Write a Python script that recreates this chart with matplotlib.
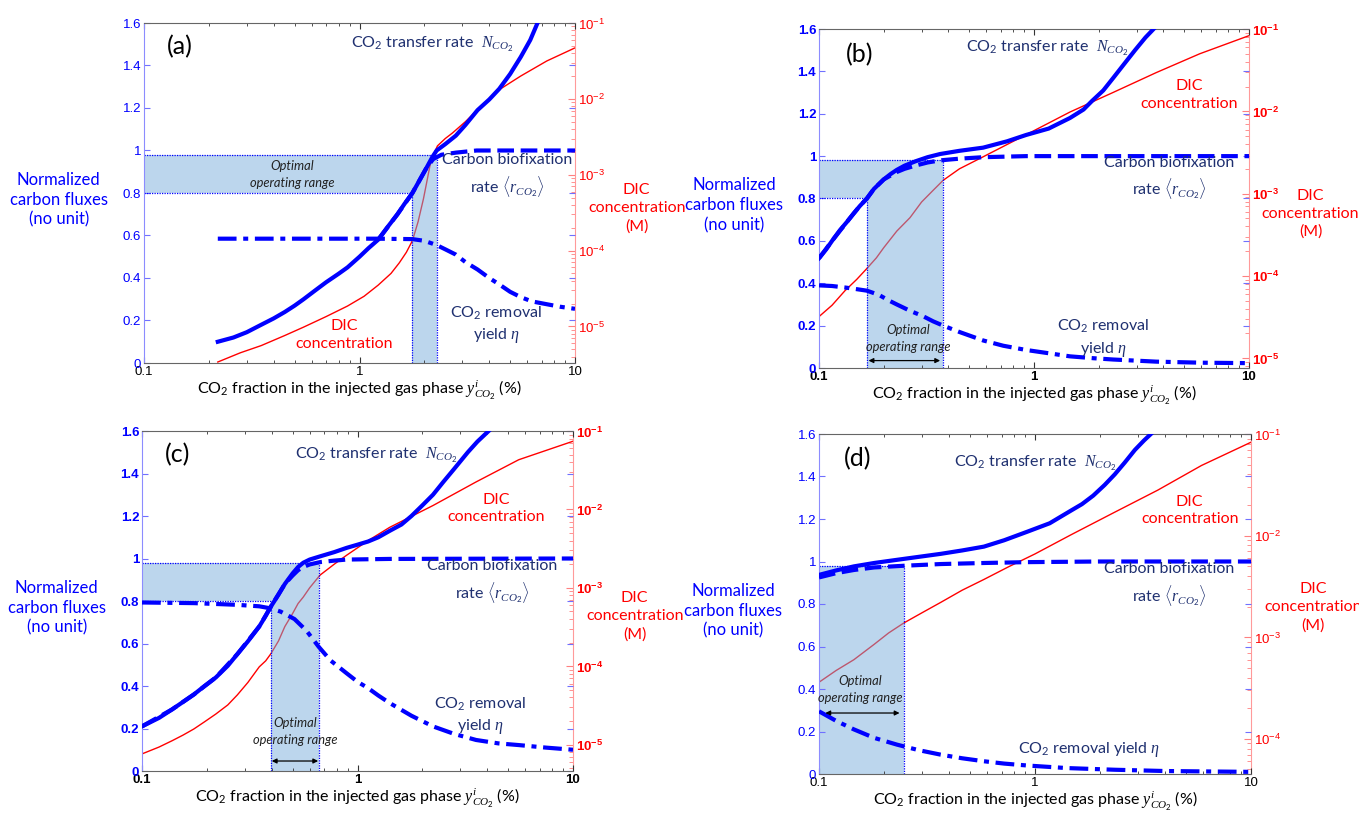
import numpy as np
import matplotlib
matplotlib.use("Agg")
import matplotlib.pyplot as plt
from matplotlib.ticker import FixedLocator, LogLocator, NullFormatter, FuncFormatter

plt.rcParams["font.family"] = ["Lato", "DejaVu Sans"]
plt.rcParams["mathtext.fontset"] = "custom"
plt.rcParams["mathtext.rm"] = "Lato"
plt.rcParams["mathtext.it"] = "Liberation Serif:italic"
plt.rcParams["mathtext.bf"] = "Liberation Sans:bold"
plt.rcParams["mathtext.sf"] = "Liberation Sans"

# ---------------- data ----------------
# panel (a)
a_x_N   = [0.22, 0.26, 0.30, 0.35, 0.40, 0.45, 0.50, 0.55, 0.62, 0.70, 0.80, 0.88, 1.0, 1.1, 1.22,
           1.35, 1.5, 1.62, 1.76, 1.9, 2.05, 2.18, 2.28, 2.5, 2.8, 3.1, 3.53, 4.0, 4.45, 5.0, 5.6, 6.2, 6.7]
a_N     = [0.10, 0.12, 0.145, 0.18, 0.21, 0.24, 0.27, 0.30, 0.34, 0.38, 0.42, 0.45, 0.50, 0.54, 0.58,
           0.64, 0.70, 0.75, 0.80, 0.86, 0.92, 0.97, 1.00, 1.03, 1.07, 1.12, 1.19, 1.24, 1.29, 1.36, 1.44, 1.52, 1.60]
a_x_r   = [1.22, 1.50, 1.76, 2.05, 2.20, 2.40, 2.8, 3.5, 10]
a_r     = [0.58, 0.70, 0.80, 0.92, 0.96, 0.98, 0.99, 1.0, 1.0]
a_x_eta = [0.22, 0.6, 1.2, 1.76, 2.0, 2.28, 2.5, 2.8, 3.1, 3.53, 4.0, 4.45, 5.0, 5.6, 6.3, 7.1, 8.5, 10]
a_eta   = [0.585, 0.585, 0.585, 0.583, 0.575, 0.555, 0.535, 0.51, 0.475, 0.44, 0.40, 0.37, 0.335,
           0.31, 0.29, 0.28, 0.265, 0.255]
a_x_dic = [0.22, 0.28, 0.35, 0.45, 0.55, 0.7, 0.88, 1.05, 1.22, 1.4, 1.53, 1.65, 1.76, 1.87, 1.98,
           2.05, 2.12, 2.2, 2.3, 2.5, 2.7, 3.1, 3.53, 4.45, 5.6, 7.4, 10]
a_dic   = [3.4e-6, 4.5e-6, 5.6e-6, 7.6e-6, 9.8e-6, 1.35e-5, 1.86e-5, 2.5e-5, 3.5e-5, 5.0e-5, 6.9e-5,
           9.5e-5, 1.35e-4, 2.4e-4, 4.8e-4, 7.9e-4, 1.29e-3, 1.82e-3, 2.4e-3, 3.0e-3, 3.55e-3,
           5.0e-3, 7.2e-3, 1.32e-2, 2.0e-2, 3.16e-2, 4.7e-2]
a_opt   = [1.76, 2.28]

# panel (b)
b_x_N   = [0.1, 0.108, 0.115, 0.125, 0.135, 0.145, 0.155, 0.167, 0.18, 0.2, 0.215, 0.23, 0.25, 0.28,
           0.32, 0.366, 0.45, 0.58, 0.75, 0.92, 1.17, 1.47, 1.7, 1.86, 2.1, 2.34, 2.65, 2.95, 3.3, 3.6]
b_N     = [0.518, 0.56, 0.60, 0.65, 0.69, 0.73, 0.765, 0.80, 0.845, 0.89, 0.915, 0.935, 0.955, 0.975,
           0.995, 1.01, 1.025, 1.04, 1.07, 1.10, 1.13, 1.18, 1.22, 1.26, 1.31, 1.37, 1.44, 1.50, 1.56, 1.60]
b_x_r   = [0.1, 0.115, 0.135, 0.155, 0.167, 0.18, 0.2, 0.23, 0.25, 0.28, 0.32, 0.366, 0.45, 0.58, 0.92, 10]
b_r     = [0.518, 0.60, 0.69, 0.765, 0.80, 0.845, 0.89, 0.925, 0.94, 0.955, 0.97, 0.98, 0.988, 0.995, 1.0, 1.0]
b_x_eta = [0.1, 0.115, 0.132, 0.15, 0.167, 0.19, 0.21, 0.23, 0.265, 0.304, 0.34, 0.378, 0.45, 0.58,
           0.72, 0.92, 1.2, 1.47, 1.9, 2.34, 3.7, 6.0, 10]
b_eta   = [0.39, 0.387, 0.38, 0.372, 0.365, 0.345, 0.32, 0.30, 0.27, 0.245, 0.22, 0.20, 0.17, 0.13,
           0.105, 0.085, 0.068, 0.055, 0.046, 0.04, 0.03, 0.025, 0.023]
b_x_dic = [0.1, 0.115, 0.132, 0.15, 0.167, 0.185, 0.2, 0.23, 0.265, 0.3, 0.34, 0.378, 0.45, 0.58,
           0.92, 1.47, 2.34, 3.7, 5.9, 10]
b_dic   = [3.2e-5, 4.4e-5, 6.6e-5, 9.1e-5, 1.23e-4, 1.66e-4, 2.2e-4, 3.5e-4, 5.1e-4, 7.9e-4, 1.1e-3,
           1.45e-3, 2.0e-3, 2.8e-3, 5.2e-3, 9.8e-3, 1.7e-2, 2.95e-2, 5.0e-2, 8.3e-2]
b_opt   = [0.167, 0.378]

# panel (c)
c_x_N   = [0.1, 0.12, 0.138, 0.155, 0.174, 0.195, 0.22, 0.25, 0.277, 0.31, 0.35, 0.375, 0.397, 0.43,
           0.46, 0.5, 0.53, 0.56, 0.6, 0.67, 0.78, 0.89, 1.0, 1.12, 1.25, 1.41, 1.6, 1.78, 2.0, 2.24,
           2.5, 2.8, 3.25, 3.6, 4.06]
c_N     = [0.21, 0.25, 0.29, 0.325, 0.36, 0.40, 0.44, 0.495, 0.55, 0.61, 0.68, 0.73, 0.775, 0.83,
           0.88, 0.93, 0.96, 0.98, 0.995, 1.01, 1.03, 1.05, 1.065, 1.08, 1.10, 1.13, 1.16, 1.20, 1.25,
           1.30, 1.36, 1.42, 1.50, 1.55, 1.60]
c_x_r   = [0.1, 0.138, 0.174, 0.22, 0.277, 0.35, 0.397, 0.46, 0.5, 0.53, 0.56, 0.6, 0.67, 0.78, 0.89, 1.41, 10]
c_r     = [0.21, 0.29, 0.36, 0.44, 0.55, 0.68, 0.775, 0.88, 0.92, 0.945, 0.96, 0.972, 0.983, 0.99,
           0.995, 0.998, 1.0]
c_x_eta = [0.1, 0.174, 0.277, 0.35, 0.397, 0.44, 0.51, 0.58, 0.66, 0.75, 0.89, 1.0, 1.12, 1.25,
           1.41, 1.78, 2.24, 2.8, 3.55, 4.5, 5.6, 7.5, 10]
c_eta   = [0.793, 0.79, 0.782, 0.775, 0.765, 0.75, 0.715, 0.66, 0.585, 0.52, 0.46, 0.42, 0.39, 0.355,
           0.32, 0.26, 0.21, 0.175, 0.146, 0.13, 0.122, 0.11, 0.10]
c_x_dic = [0.1, 0.12, 0.138, 0.155, 0.174, 0.195, 0.22, 0.25, 0.277, 0.31, 0.35, 0.375, 0.397, 0.43,
           0.46, 0.5, 0.53, 0.56, 0.6, 0.67, 0.78, 0.89, 1.12, 1.41, 2.24, 3.55, 5.6, 10]
c_dic   = [7.6e-6, 9.3e-6, 1.12e-5, 1.32e-5, 1.58e-5, 1.95e-5, 2.45e-5, 3.2e-5, 4.3e-5, 6.2e-5,
           9.8e-5, 1.17e-4, 1.45e-4, 2.1e-4, 3.2e-4, 4.7e-4, 6.3e-4, 7.6e-4, 1.0e-3, 1.45e-3,
           2.0e-3, 2.6e-3, 4.0e-3, 5.9e-3, 1.12e-2, 2.24e-2, 4.3e-2, 7.4e-2]
c_opt   = [0.397, 0.66]

# panel (d)
d_x_N   = [0.1, 0.12, 0.145, 0.18, 0.23, 0.29, 0.366, 0.46, 0.58, 0.72, 0.92, 1.17, 1.47, 1.65,
           1.86, 2.1, 2.34, 2.6, 2.9, 3.2, 3.44]
d_N     = [0.937, 0.958, 0.977, 0.993, 1.008, 1.022, 1.036, 1.052, 1.07, 1.10, 1.14, 1.18, 1.24, 1.27,
           1.31, 1.36, 1.41, 1.465, 1.525, 1.57, 1.60]
d_x_r   = [0.1, 0.12, 0.145, 0.18, 0.247, 0.366, 0.58, 0.92, 2.0, 10]
d_r     = [0.925, 0.945, 0.96, 0.972, 0.98, 0.988, 0.993, 0.997, 1.0, 1.0]
d_x_eta = [0.1, 0.12, 0.145, 0.18, 0.23, 0.29, 0.366, 0.46, 0.58, 0.72, 0.92, 1.4, 2.34, 4.0, 10]
d_eta   = [0.295, 0.25, 0.21, 0.17, 0.138, 0.112, 0.091, 0.074, 0.06, 0.049, 0.04, 0.028, 0.02, 0.014, 0.01]
d_x_dic = [0.1, 0.12, 0.145, 0.18, 0.21, 0.247, 0.3, 0.366, 0.46, 0.58, 0.75, 1.0, 1.47, 2.34, 3.7, 5.9, 10]
d_dic   = [3.6e-4, 4.7e-4, 6.0e-4, 8.5e-4, 1.1e-3, 1.38e-3, 1.74e-3, 2.2e-3, 2.9e-3, 3.7e-3,
           4.9e-3, 6.6e-3, 1.02e-2, 1.7e-2, 2.8e-2, 4.9e-2, 8.3e-2]
d_opt   = [0.1, 0.247]

band_lo, band_hi = 0.8, 0.98
dic_bottom = {"a": 3.3e-6, "b": 7.6e-6, "c": 4.6e-6, "d": 4.5e-5}

panels = {
    "a": dict(xN=a_x_N, N=a_N, xr=a_x_r, r=a_r, xe=a_x_eta, e=a_eta, xd=a_x_dic, d=a_dic, opt=a_opt),
    "b": dict(xN=b_x_N, N=b_N, xr=b_x_r, r=b_r, xe=b_x_eta, e=b_eta, xd=b_x_dic, d=b_dic, opt=b_opt),
    "c": dict(xN=c_x_N, N=c_N, xr=c_x_r, r=c_r, xe=c_x_eta, e=c_eta, xd=c_x_dic, d=c_dic, opt=c_opt),
    "d": dict(xN=d_x_N, N=d_N, xr=d_x_r, r=d_r, xe=d_x_eta, e=d_eta, xd=d_x_dic, d=d_dic, opt=d_opt),
}

# ---------------- layout / styles ----------------
W, H = 1359, 813
boxes = {"a": (144, 23, 575, 363), "b": (819, 29, 1249, 368),
         "c": (142, 431, 573, 771), "d": (819, 434, 1251, 774)}
bold = {"a": False, "b": True, "c": True, "d": False}
dic_label_y = {"a": 0.455, "b": 0.455, "c": 0.455, "d": 0.49}
# annotation positions (data coords)
ann = {
    "a": dict(lab=(0.128, 1.49), N=(0.91, 1.50), dic=(0.85, 0.133),
              rr=(4.83, 0.88), eta=(4.3, 0.18), eta_one=False, opt=(0.487, 0.886), arrow=None),
    "b": dict(lab=(0.134, 1.48), N=(0.484, 1.506), dic=(5.27, 1.29),
              rr=(4.24, 0.894), eta=(2.09, 0.14), eta_one=False, opt=(0.259, 0.14), arrow=(0.17, 0.366, 0.035)),
    "c": dict(lab=(0.128, 1.49), N=(0.515, 1.486), dic=(4.4, 1.235),
              rr=(4.2, 0.89), eta=(3.7, 0.26), eta_one=False, opt=(0.513, 0.185), arrow=(0.40, 0.657, 0.047)),
    "d": dict(lab=(0.131, 1.486), N=(0.42, 1.46), dic=(5.2, 1.24),
              rr=(4.2, 0.89), eta=(1.77, 0.114), eta_one=True, opt=(0.155, 0.40), arrow=(0.107, 0.236, 0.287)),
}

BLUE = "#0000ff"
RED = "#ff0000"
NAVY = "#1f3070"
FILL = "#7bafdd"
FS = 11.5

fig = plt.figure(figsize=(W / 100, H / 100), dpi=100)

for key, p in panels.items():
    x0, y0, x1, y1 = boxes[key]
    ax = fig.add_axes([x0 / W, 1 - y1 / H, (x1 - x0) / W, (y1 - y0) / H])
    ax2 = ax.twinx()
    ax.set_zorder(ax2.get_zorder() + 1)
    ax.patch.set_visible(False)
    fw = "bold" if bold[key] else "normal"

    # DIC on the log axis
    ax2.plot(p["xd"], p["d"], color=RED, lw=1.0)
    ax2.set_yscale("log")
    ax2.set_ylim(dic_bottom[key], 0.1)
    dec = [10.0 ** k for k in range(-5, 0) if 10.0 ** k >= dic_bottom[key] * 0.999]
    ax2.yaxis.set_major_locator(FixedLocator(dec))
    ax2.yaxis.set_minor_locator(LogLocator(base=10, subs=np.arange(2, 10)))
    ax2.yaxis.set_minor_formatter(NullFormatter())
    mt = r"\mathbf" if bold[key] else r"\mathsf"
    ax2.yaxis.set_major_formatter(FuncFormatter(
        lambda v, pos, mt=mt: "$%s{10^{%d}}$" % (mt, int(round(np.log10(v))))))
    ax2.tick_params(axis="y", which="both", direction="in", colors=RED, labelsize=9.5, pad=2)
    ax2.tick_params(axis="y", which="major", length=5, color="#ff8080")
    ax2.tick_params(axis="y", which="minor", length=3, color="#ff8080")
    for s in ["left", "top", "bottom"]:
        ax2.spines[s].set_visible(False)
    ax2.spines["right"].set_color("#ff9a9a")

    # shaded optimal range
    lo, hi = p["opt"]
    poly_x = [0.1, lo, lo, hi, hi, 0.1]
    poly_y = [band_lo, band_lo, 0, 0, band_hi, band_hi]
    ax.fill(poly_x, poly_y, color=FILL, alpha=0.5, lw=0, zorder=1)
    dot = dict(color=BLUE, lw=0.9, ls=(0, (1, 1)), zorder=2)
    ax.plot([0.1, hi], [band_hi, band_hi], **dot)
    ax.plot([hi, hi], [0, band_hi], **dot)
    if lo > 0.1:
        ax.plot([0.1, lo], [band_lo, band_lo], **dot)
        ax.plot([lo, lo], [0, band_lo], **dot)

    # carbon fluxes
    ax.plot(p["xe"], p["e"], color=BLUE, lw=3, ls=(0, (4.5, 1.6, 1.2, 1.6)), zorder=3)
    ax.plot(p["xr"], p["r"], color=BLUE, lw=3, ls=(0, (4, 1.6)), zorder=3)
    ax.plot(p["xN"], p["N"], color=BLUE, lw=3, zorder=4, solid_joinstyle="round")

    ax.set_xscale("log")
    ax.set_xlim(0.1, 10)
    ax.set_ylim(0, 1.6)
    ax.set_xticks([0.1, 1, 10])
    ax.set_xticklabels(["0.1", "1", "10"], fontfamily="Liberation Sans", fontweight=fw)
    ax.xaxis.set_minor_locator(LogLocator(base=10, subs=np.arange(2, 10)))
    ax.xaxis.set_minor_formatter(NullFormatter())
    yt = np.arange(0, 1.61, 0.2)
    ax.set_yticks(yt)
    ax.set_yticklabels(["%g" % round(v, 1) for v in yt], fontfamily="Liberation Sans", fontweight=fw)
    ax.tick_params(axis="x", which="both", direction="in", top=True, colors="#333333",
                   labelsize=9.5, pad=2)
    ax.tick_params(axis="x", which="major", length=4, labelcolor="black")
    ax.tick_params(axis="x", which="minor", length=2.5)
    ax.tick_params(axis="y", direction="in", right=True, length=4, color="#7070ff",
                   labelcolor=BLUE, labelsize=9.5, pad=2)
    ax.spines["left"].set_color("#8c8cff")
    ax.spines["right"].set_visible(False)
    ax.spines["top"].set_color("#666666")
    ax.spines["bottom"].set_color("#666666")

    ax.set_xlabel(r"CO$_2$ fraction in the injected gas phase $y^{i}_{CO_2}$ (%)",
                  fontsize=11.5, labelpad=1)
    ax.text(-0.198, 0.48, "Normalized\ncarbon fluxes\n(no unit)", transform=ax.transAxes,
            color=BLUE, fontsize=12, ha="center", va="center", linespacing=1.3)
    ax.text(1.143, dic_label_y[key], "DIC\nconcentration\n(M)", transform=ax.transAxes,
            color=RED, fontsize=11.5, ha="center", va="center", linespacing=1.35)

    A = ann[key]
    ax.text(*A["lab"], "(%s)" % key, fontsize=18, ha="left", va="center", color="black")
    ax.text(*A["N"], r"CO$_2$ transfer rate  $N_{CO_2}$", fontsize=FS, color=NAVY,
            ha="left", va="center")
    ax.text(*A["dic"], "DIC\nconcentration", fontsize=FS, color=RED,
            ha="center", va="center", linespacing=1.35)
    ax.text(*A["rr"], "Carbon biofixation\n" + r"rate $\langle r_{CO_2} \rangle$", fontsize=FS,
            color=NAVY, ha="center", va="center", linespacing=1.35)
    eta_txt = (r"CO$_2$ removal yield $\eta$" if A["eta_one"]
               else "CO$_2$ removal\n" + r"yield $\eta$")
    ax.text(*A["eta"], eta_txt, fontsize=FS, color=NAVY, ha="center", va="center",
            linespacing=1.35)
    ax.text(*A["opt"], "Optimal\noperating range", fontsize=9.3, style="italic",
            color="#222222", ha="center", va="center", linespacing=1.5)
    if A["arrow"] is not None:
        xa, xb, ya = A["arrow"]
        ax.annotate("", xy=(xb, ya), xytext=(xa, ya),
                    arrowprops=dict(arrowstyle="<|-|>", color="black", lw=0.9,
                                    mutation_scale=7, shrinkA=0, shrinkB=0))

fig.savefig("out.png", dpi=100)
